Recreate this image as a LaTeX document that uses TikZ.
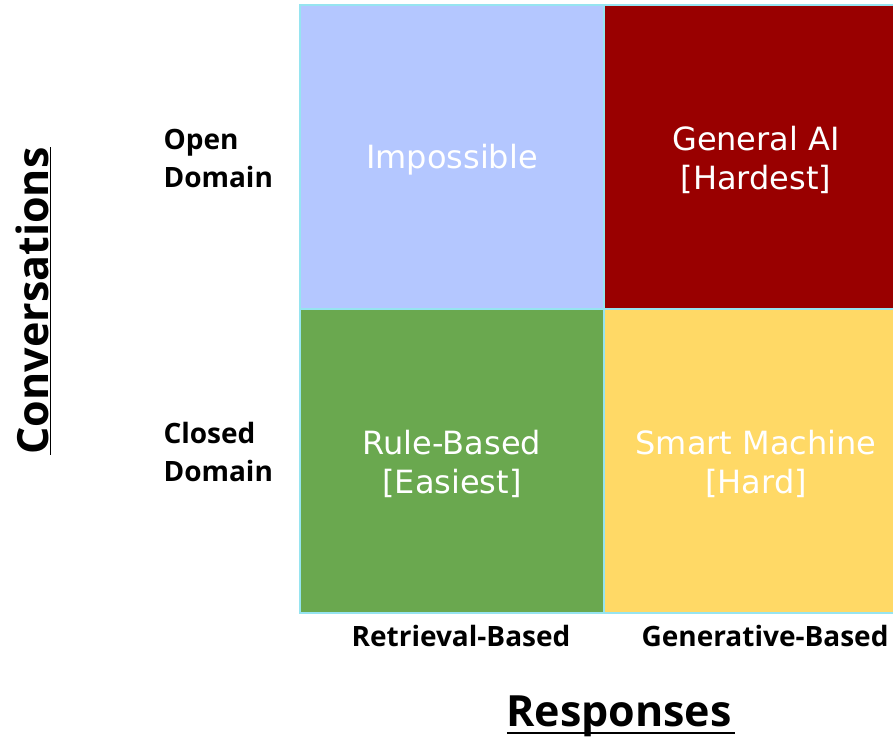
\documentclass[tikz,border=0pt]{standalone}
\usepackage{fontspec}
\setmainfont{Open Sans}
\newfontfamily\cellfont{DejaVu Sans}
\usetikzlibrary{calc}
\definecolor{cellblue}{RGB}{180,199,255}
\definecolor{cellred}{RGB}{153,0,0}
\definecolor{cellgreen}{RGB}{106,168,79}
\definecolor{cellyellow}{RGB}{255,217,102}
\definecolor{gridcyan}{RGB}{150,228,240}
\tikzset{
	celltext/.style={text=white, align=center, font=\cellfont\fontsize{32}{39}\selectfont},
	axlabel/.style={align=left, font=\bfseries\fontsize{28}{38}\selectfont},
	axtitle/.style={font=\bfseries\fontsize{43}{45}\selectfont}
}

\begin{document}
\begin{tikzpicture}[x=1pt, y=-1pt]
		%%%%% START %%%%%
		\useasboundingbox (0, 0) rectangle (893, 740);
		\clip (0, 0) rectangle (893, 740);
		
		\draw[line width=2.5pt, color=gridcyan, fill=cellblue] (300, 5) rectangle (604, 309);
		\draw[line width=2.5pt, color=gridcyan, fill=cellred] (604, 5) rectangle (908, 309);
		\draw[line width=2.5pt, color=gridcyan, fill=cellgreen] (300, 309) rectangle (604, 613);
		\draw[line width=2.5pt, color=gridcyan, fill=cellyellow] (604, 309) rectangle (908, 613);
		
		\node[celltext] (impossible) at (452, 160) {Impossible};
		\node[celltext] (generalai) at (756, 160) {General AI\\{}[Hardest]};
		\node[celltext] (rulebased) at (452, 464) {Rule-Based\\{}[Easiest]};
		\node[celltext] (smartmachine) at (756, 464) {Smart Machine\\{}[Hard]};
		
		\node[axlabel, anchor=west] (open) at (160, 158) {Open\\Domain};
		\node[axlabel, anchor=west] (closed) at (160, 452) {Closed\\Domain};
		\node[axlabel] (retrieval) at (461, 636) {Retrieval-Based};
		\node[axlabel] (generative) at (765, 636) {Generative-Based};
		
		\node[axtitle] (responses) at (619, 716) {Responses};
		\draw[line width=2.5pt] ([yshift=-7pt]responses.base west) ++(4, 0) -- ([yshift=-7pt]responses.base east);
		\node[axtitle, rotate=90] (conversations) at (33, 301) {\underline{Conversations}};
		
		%%%%% END %%%%%
	\end{tikzpicture}
\end{document}
